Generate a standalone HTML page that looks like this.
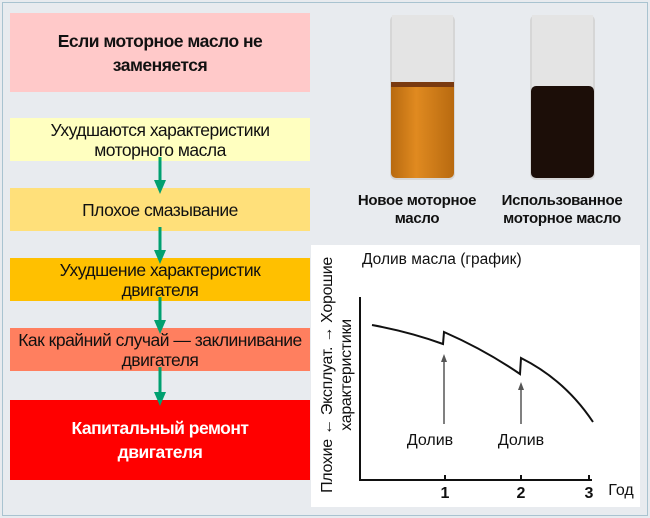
<!DOCTYPE html>
<html><head><meta charset="utf-8"><style>
body{margin:0;width:650px;height:518px;background:#e8ebef;font-family:"Liberation Sans",Arial,sans-serif;position:relative;overflow:hidden}
.frame{position:absolute;left:2px;top:2px;width:644px;height:512px;border:1px solid #a9c3d0}
.b{position:absolute;left:10px;width:300px;text-align:center;color:#111;font-size:17.5px;line-height:20px;display:flex;align-items:center;justify-content:center;letter-spacing:-0.5px;white-space:nowrap}
</style></head><body>
<div class="frame"></div>
<div class="b" style="top:13px;height:79px;background:#ffc9c9;font-weight:bold;font-size:17.5px;line-height:24px">Если моторное масло не<br>заменяется</div>
<div class="b" style="top:118px;height:43px;background:#ffffc0">Ухудшаются характеристики<br>моторного масла</div>
<div class="b" style="top:188px;height:43px;background:#ffe07a">Плохое смазывание</div>
<div class="b" style="top:258px;height:43px;background:#ffc000">Ухудшение характеристик<br>двигателя</div>
<div class="b" style="top:328px;height:43px;background:#ff7f5f">Как крайний случай — заклинивание<br>двигателя</div>
<div class="b" style="top:400px;height:80px;background:#ff0000;color:#fff;font-weight:bold;font-size:17.5px;line-height:24px">Капитальный ремонт<br>двигателя</div>
<svg width="650" height="518" style="position:absolute;left:0;top:0">
<g stroke="#00a070" stroke-width="3" fill="#00a070">
<line x1="160" y1="157" x2="160" y2="184"/><polygon points="154,180 166,180 160,194" stroke="none"/>
<line x1="160" y1="227" x2="160" y2="254"/><polygon points="154,250 166,250 160,264" stroke="none"/>
<line x1="160" y1="297" x2="160" y2="324"/><polygon points="154,320 166,320 160,334" stroke="none"/>
<line x1="160" y1="367" x2="160" y2="396"/><polygon points="154,392 166,392 160,406" stroke="none"/>
</g>
<defs><linearGradient id="g1" x1="0" x2="1"><stop offset="0" stop-color="#b86a10"/><stop offset=".4" stop-color="#e08a20"/><stop offset="1" stop-color="#b86a10"/></linearGradient></defs>
<rect x="390" y="15" width="65" height="165" rx="6" fill="#d6d6d6"/>
<rect x="392" y="15" width="61" height="68" fill="#e4e4e4"/>
<rect x="391" y="82" width="63" height="96" rx="5" fill="url(#g1)"/>
<rect x="391" y="82" width="63" height="5" fill="#7a3a10"/>
<rect x="530" y="15" width="65" height="165" rx="6" fill="#d6d6d6"/>
<rect x="532" y="15" width="61" height="72" fill="#e4e4e4"/>
<rect x="531" y="86" width="63" height="92" rx="5" fill="#1c0e08"/>
<g font-weight="bold" font-size="15" fill="#111" text-anchor="middle" letter-spacing="-0.3">
<text x="417" y="205">Новое моторное</text><text x="417" y="223">масло</text>
<text x="562" y="205">Использованное</text><text x="562" y="223">моторное масло</text>
</g>
<rect x="311" y="245" width="329" height="262" fill="#fff"/>
<text x="362" y="264" font-size="15.5" fill="#111">Долив масла (график)</text>
<g font-size="16" fill="#111" text-anchor="middle" letter-spacing="-0.3">
<text transform="translate(332,375) rotate(-90)">Плохие ← Эксплуат. → Хорошие</text>
<text transform="translate(351,375) rotate(-90)">характеристики</text>
</g>
<g stroke="#111" stroke-width="2" fill="none">
<polyline points="360,297 360,480 592,480"/>
<line x1="445" y1="475" x2="445" y2="480"/><line x1="521" y1="475" x2="521" y2="480"/><line x1="589" y1="475" x2="589" y2="480"/>
<path d="M372,325 Q410,332 443,344 L444,332 Q485,350 520,374 L521,358 Q565,380 593,422"/>
</g>
<g stroke="#555" stroke-width="1.5" fill="#555">
<line x1="444" y1="424" x2="444" y2="358"/><polygon points="441,362 447,362 444,354" stroke="none"/>
<line x1="521" y1="424" x2="521" y2="386"/><polygon points="518,390 524,390 521,382" stroke="none"/>
</g>
<g font-size="16" fill="#111" text-anchor="middle">
<text x="430" y="445">Долив</text><text x="521" y="445">Долив</text>
<text x="445" y="498" font-weight="bold">1</text><text x="521" y="498" font-weight="bold">2</text><text x="589" y="498" font-weight="bold">3</text>
<text x="621" y="495">Год</text>
</g>
</svg>
</body></html>
